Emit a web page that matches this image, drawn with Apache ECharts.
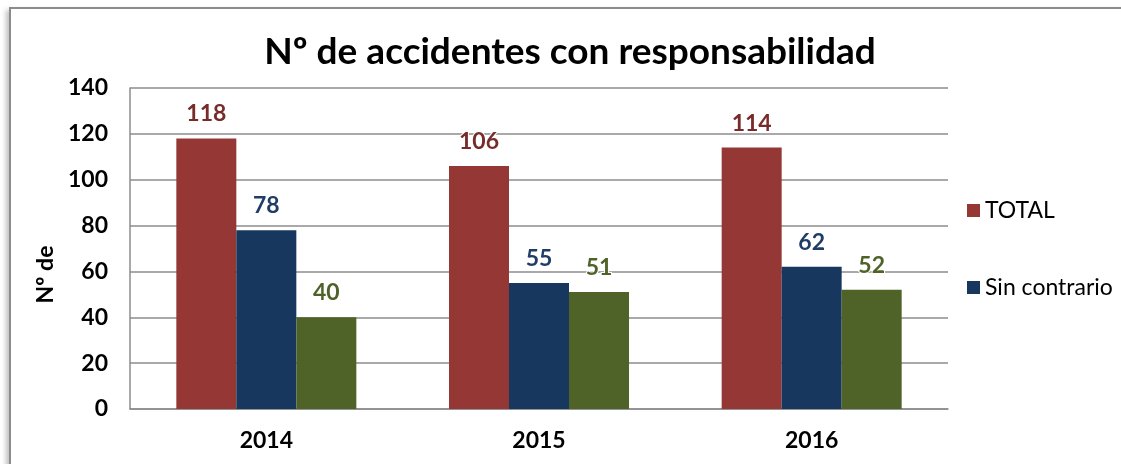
<!DOCTYPE html>
<html>
<head>
<meta charset="utf-8">
<script src="https://cdn.jsdelivr.net/npm/echarts@6/dist/echarts.min.js"></script>
<style>
	body { margin:0; background:#fff; }
	#frame { position:absolute; left:9px; top:7px; width:1130px; height:480px; border:2px solid #8c8c8c; box-shadow:-3px 3px 5px rgba(0,0,0,0.25); background:#fff; }
	#main { position:absolute; left:0; top:0; width:1121px; height:464px; }
</style>
</head>
<body>
<div id="frame"></div>
<div id="main"></div>
<script>
var years = ['2014', '2015', '2016'];
var totalData = [118, 106, 114];
var sinContrarioData = [78, 55, 62];
var conContrarioData = [40, 51, 52];

function initChart(){
	var font = 'Lato, "Open Sans", sans-serif';
	// 标签样式
	function barLabel(color){
		return {
			show: true,
			position: 'top',
			distance: 13,
			color: color,
			fontFamily: font,
			fontWeight: 'bold',
			fontSize: 23,
			textBorderColor: '#fff',
			textBorderWidth: 2
		};
	}
	var option = {
		title: {
			text: 'Nº de accidentes con responsabilidad',
			left: 565,
			textAlign: 'center',
			top: 29,
			textStyle: { fontFamily: font, fontWeight: 'bold', fontSize: 37, color: '#000' }
		},
		legend: {
			data: ['TOTAL', 'Sin contrario'],
			orient: 'vertical',
			left: 962,
			top: 194,
			itemWidth: 13,
			itemHeight: 13,
			itemGap: 54,
			icon: 'rect',
			textStyle: { fontFamily: font, fontSize: 23, color: '#000' }
		},
		grid: { left: 130, right: 173, top: 88, bottom: 55 },
		xAxis: {
			type: 'category',
			data: years,
			axisLine: { lineStyle: { color: '#8c8c8c', width: 1.5 } },
			axisTick: { show: false },
			axisLabel: { margin: 20, color: '#000', fontFamily: font, fontWeight: 'bold', fontSize: 23 }
		},
		yAxis: {
			type: 'value',
			min: 0,
			max: 140,
			interval: 20,
			name: 'Nº de',
			nameLocation: 'middle',
			nameGap: 66,
			nameTextStyle: { fontFamily: font, fontWeight: 'bold', fontSize: 23, color: '#000', padding: [0, 52, 0, 0] },
			axisLine: { show: true, lineStyle: { color: '#8c8c8c', width: 1.5 } },
			axisTick: { show: false },
			axisLabel: { margin: 22, color: '#000', fontFamily: font, fontWeight: 'bold', fontSize: 23 },
			splitLine: { lineStyle: { color: '#8c8c8c', width: 1.5 } }
		},
		series: [
			{ name: 'TOTAL', type: 'bar', data: totalData, barWidth: 60, barGap: '0%',
			  itemStyle: { color: '#953735' }, label: barLabel('#772c2a') },
			{ name: 'Sin contrario', type: 'bar', data: sinContrarioData, barWidth: 60, barGap: '0%',
			  itemStyle: { color: '#17375e' }, label: barLabel('#1f3d66') },
			{ name: 'Con contrario', type: 'bar', data: conContrarioData, barWidth: 60, barGap: '0%',
			  itemStyle: { color: '#4f6228' }, label: barLabel('#4f6228') }
		]
	};
	var myChart = echarts.init(document.getElementById('main'));
	myChart.setOption(option);
}
initChart();
</script>
</body>
</html>
